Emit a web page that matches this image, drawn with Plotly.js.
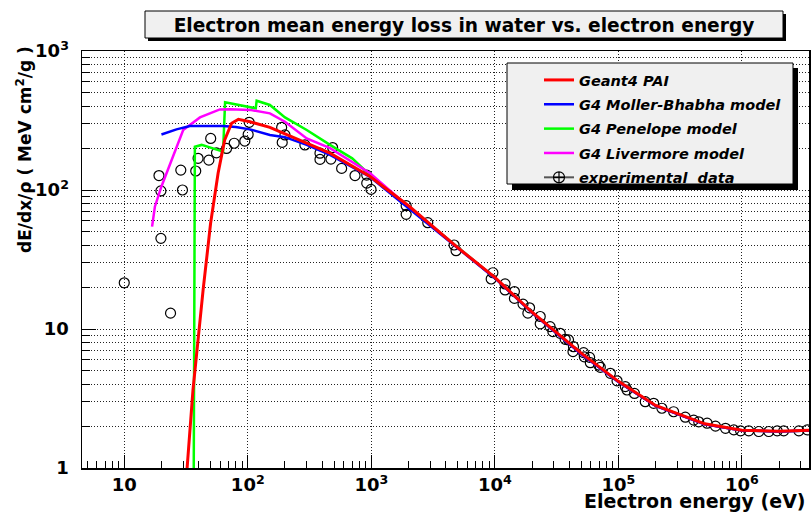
<!DOCTYPE html>
<html>
<head>
<meta charset="utf-8">
<script src="https://cdn.plot.ly/plotly-3.0.1.min.js"></script>
<style>html,body{margin:0;padding:0;background:#fff;}#chart{width:811px;height:513px;}</style>
</head>
<body>
<div id="chart"></div>
<script>
// ---- Data ----
var paiE = [31, 32.3, 36, 43.5, 50, 57.5, 65, 74, 84, 104, 151, 200, 300, 463, 977, 2000, 5000, 1e4, 2e4, 5e4, 1e5, 2e5, 5e5, 1e6, 2e6, 3.5e6];
var paiV = [0.62, 1.0, 3.64, 19.1, 57.6, 132, 229, 302, 323, 310, 282, 253, 217, 184, 125, 77, 38.5, 23.5, 13.2, 6.7, 4.2, 2.82, 2.08, 1.87, 1.84, 1.87];

var mbE = [20, 23.4, 26.5, 34, 41, 50, 63, 80, 104, 151, 200, 300, 463, 977, 2000, 5000, 1e4, 2e4, 5e4, 1e5, 2e5, 5e5, 1e6, 2e6, 3.5e6];
var mbV = [251, 263, 273, 289, 290, 291, 289, 284, 273, 249, 240, 211, 179, 124, 74, 38, 23.2, 13.1, 6.6, 4.15, 2.8, 2.06, 1.86, 1.83, 1.86];

var penE = [36.5, 37.3, 42.3, 55.8, 63.1, 65.5, 104, 116, 118, 151, 200, 300, 463, 700, 977, 2000, 5000, 1e4, 2e4, 5e4, 1e5, 2e5, 5e5, 1e6, 2e6, 3.5e6];
var penV = [0.8, 205, 211, 196, 189, 428, 398, 387, 439, 409, 333, 270, 211, 169, 128, 76, 38.5, 23.4, 13.2, 6.65, 4.18, 2.81, 2.07, 1.86, 1.83, 1.86];

var livE = [16.8, 17.7, 20, 24, 30, 41, 59.4, 72, 104, 151, 200, 300, 463, 977, 2000, 5000, 1e4, 2e4, 5e4, 1e5, 2e5, 5e5, 1e6, 2e6, 3.5e6];
var livV = [54.5, 75.8, 106, 160, 270, 333, 380, 381, 377, 356, 310, 235, 200, 132, 76, 38.6, 23.4, 13.2, 6.6, 4.17, 2.8, 2.06, 1.86, 1.83, 1.86];

var expE = [10, 19.1, 19.8, 19.8, 23.7, 28.7, 29.6, 37.9, 39.6, 50.1, 48.4, 55.8, 67.3, 77.6, 94.6, 100.7, 102.6,
  188, 200, 190, 290, 384, 384, 486, 471, 575, 738, 918, 918, 995, 1914, 1914, 2864, 4677, 4853,
  9640, 9340, 12100, 12100, 14400, 14400, 16900, 19100, 18500, 23300, 23300, 28000, 29500, 33800, 37100, 39500,
  43300, 42900, 52300, 53000, 58500, 59300, 69200, 71400, 86100, 97500, 113800, 117500, 135000,
  165000, 193000, 225000, 280000, 348000, 407000, 447000, 523000, 611000, 736000, 860000, 975000,
  1.136e6, 1.37e6, 1.65e6, 1.93e6, 2.18e6, 2.89e6, 3.38e6];
var expV = [21.5, 127, 98.4, 44.9, 13.0, 139, 100, 137, 169, 235, 164, 185, 199, 217, 225, 251, 307,
  282, 249, 220, 211, 184, 166, 202, 167, 143, 127, 128, 112, 101, 77.1, 66.8, 58.2, 40.2, 36.6,
  25.4, 22.9, 21.1, 19.1, 18.6, 16.6, 15.1, 14.2, 13.0, 12.3, 10.9, 10.4, 9.57, 9.31, 8.43, 8.34,
  7.46, 6.87, 6.76, 6.31, 6.25, 5.72, 5.51, 5.3, 4.8, 4.24, 3.85, 3.64, 3.44,
  3.0, 2.92, 2.69, 2.54, 2.32, 2.21, 2.15, 2.10, 2.0, 1.93, 1.88, 1.85,
  1.85, 1.83, 1.83, 1.85, 1.85, 1.85, 1.88];

var xTickVals = [10, 100, 1000, 1e4, 1e5, 1e6];
var xTickText = ['10', '10<sup>2</sup>', '10<sup>3</sup>', '10<sup>4</sup>', '10<sup>5</sup>', '10<sup>6</sup>'];
var yTickVals = [1, 10, 100, 1000];
var yTickText = ['1', '10', '10<sup>2</sup>', '10<sup>3</sup>'];

var seriesNames = ['Geant4 PAI', 'G4 Moller-Bhabha model', 'G4 Penelope model', 'G4 Livermore model', 'experimental\u00a0\u00a0data'];

// minor tick positions (2..9 in each decade)
function minorVals(d0, d1) {
  var out = [];
  for (var d = d0; d <= d1; d++) for (var m = 2; m <= 9; m++) out.push(m * Math.pow(10, d));
  return out;
}

// ---- Layout helpers (pixel -> paper) ----
var L = 82, R = 809, T = 51, B = 468;
function px(x) { return (x - L) / (R - L); }
function py(y) { return (B - y) / (B - T); }

var FONT = 'DejaVu Sans, Liberation Sans, Arial, sans-serif';
var legFont = {family: FONT, size: 14.5, weight: 'bold', style: 'italic', color: '#000'};

var traces = [
  {x: expE, y: expV, mode: 'markers', type: 'scatter', showlegend: false, hoverinfo: 'x+y',
   marker: {symbol: 'circle-open', size: 10, color: '#000', line: {width: 1.2, color: '#000'}}},
  {x: penE, y: penV, mode: 'lines', type: 'scatter', name: seriesNames[2], legendgroup: 'g3', legendrank: 3,
   line: {color: '#00ff00', width: 2.5}},
  {x: livE, y: livV, mode: 'lines', type: 'scatter', name: seriesNames[3], legendgroup: 'g4', legendrank: 4,
   line: {color: '#ff00ff', width: 2.5}},
  {x: mbE, y: mbV, mode: 'lines', type: 'scatter', name: seriesNames[1], legendgroup: 'g2', legendrank: 2,
   line: {color: '#0000ff', width: 2.5}},
  {x: paiE, y: paiV, mode: 'lines', type: 'scatter', name: seriesNames[0], legendgroup: 'g1', legendrank: 1,
   line: {color: '#ff0000', width: 3}},
  {x: [null], y: [null], mode: 'lines+markers', type: 'scatter', name: seriesNames[4], legendgroup: 'g5', legendrank: 5,
   line: {color: '#555', width: 2}, marker: {symbol: 'circle-cross-open', size: 11, color: '#000', line: {width: 1.2}}}
];

var layout = {
  width: 811, height: 513,
  margin: {l: L, r: 811 - R, t: T, b: 513 - B, pad: 0},
  paper_bgcolor: '#fff', plot_bgcolor: '#fff',
  showlegend: true,
  font: {family: FONT, color: '#000'},
  title: {text: 'Electron mean energy loss in water vs. electron energy',
    font: {family: FONT, size: 18.6, weight: 'bold', color: '#000'},
    x: 464 / 811, xref: 'container', xanchor: 'center',
    y: 1 - 25 / 513, yref: 'container', yanchor: 'middle'},
  xaxis: {
    type: 'log', range: [0.658, 6.543],
    tickmode: 'array', tickvals: xTickVals, ticktext: xTickText,
    ticks: 'inside', ticklen: 13, tickwidth: 1, tickcolor: '#000',
    showgrid: true, gridcolor: '#222', griddash: '1px,2px', gridwidth: 1,
    minor: {tickmode: 'array', tickvals: minorVals(0, 6), ticks: 'inside', ticklen: 7, tickcolor: '#000', showgrid: false},
    showline: true, linecolor: '#000', linewidth: 1.5, mirror: true,
    zeroline: false,
    tickfont: {family: FONT, size: 18, weight: 'bold', color: '#000'},
    ticklabelstandoff: 0
  },
  yaxis: {
    type: 'log', range: [0, 3],
    tickmode: 'array', tickvals: yTickVals, ticktext: yTickText,
    ticks: 'inside', ticklen: 14, tickwidth: 1, tickcolor: '#000',
    showgrid: true, gridcolor: '#222', griddash: '1px,2px', gridwidth: 1,
    minor: {tickmode: 'array', tickvals: minorVals(0, 2), ticks: 'inside', ticklen: 8, tickcolor: '#000',
      showgrid: true, gridcolor: '#222', griddash: '1px,2px', gridwidth: 1},
    showline: true, linecolor: '#000', linewidth: 1.5, mirror: true,
    zeroline: false,
    tickfont: {family: FONT, size: 18, weight: 'bold', color: '#000'},
    ticklabelstandoff: 8
  },
  legend: {
    x: px(539), y: py(64), xanchor: 'left', yanchor: 'top',
    bgcolor: 'rgba(0,0,0,0)', borderwidth: 0,
    font: legFont, tracegroupgap: 2.5, traceorder: 'grouped'
  },
  shapes: [
    // title box shadow + box
    {type: 'rect', xref: 'paper', yref: 'paper', x0: px(148), x1: px(786), y0: py(14), y1: py(41),
     fillcolor: '#000', line: {width: 0}, layer: 'above'},
    {type: 'rect', xref: 'paper', yref: 'paper', x0: px(145), x1: px(783), y0: py(11), y1: py(38),
     fillcolor: '#f0f0f0', line: {width: 1, color: '#000'}, layer: 'above'},
    // legend box shadow + box
    {type: 'rect', xref: 'paper', yref: 'paper', x0: px(512), x1: px(798), y0: py(68), y1: py(190),
     fillcolor: '#000', line: {width: 0}, layer: 'above'},
    {type: 'rect', xref: 'paper', yref: 'paper', x0: px(507), x1: px(793), y0: py(63), y1: py(184),
     fillcolor: '#f0f0f0', line: {width: 1, color: '#000'}, layer: 'above'}
  ],
  annotations: [
    {text: 'dE/dx/ρ ( MeV cm<sup>2</sup>/g )', xref: 'paper', yref: 'paper',
     x: px(24), y: py(150), xanchor: 'center', yanchor: 'middle', textangle: -90, showarrow: false,
     font: {family: FONT, size: 17, weight: 'bold', color: '#000'}},
    {text: 'Electron energy (eV)', xref: 'paper', yref: 'paper',
     x: px(808), y: py(501), xanchor: 'right', yanchor: 'middle', showarrow: false,
     font: {family: FONT, size: 19, weight: 'bold', color: '#000'}}
  ]
};

Plotly.newPlot('chart', traces, layout, {displayModeBar: false, staticPlot: true});
</script>
</body>
</html>
